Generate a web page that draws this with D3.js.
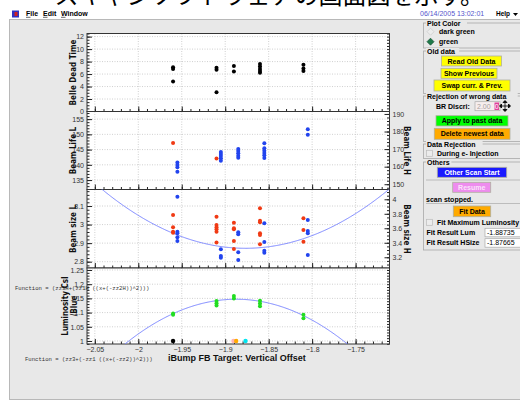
<!DOCTYPE html>
<html>
<head>
<meta charset="utf-8">
<script src="https://cdn.jsdelivr.net/npm/d3@7"></script>
<style>
body { margin: 0; background: #fff; }
svg { display: block; font-family: "Liberation Sans", Arial, sans-serif; }
</style>
</head>
<body>
<svg id="chart" width="520" height="403"></svg>
<script>
// ---- data ----
var xTickVals = [-2.05, -2, -1.95, -1.9, -1.85, -1.8, -1.75];
var scanX  = [-1.96, -1.91, -1.89, -1.86, -1.81];       // L / dead time / lum points
var scanXH = [-1.955, -1.905, -1.885, -1.855, -1.805];  // H points sit a bit to the right

var deadTime = [[7.1, 6.8, 4.8], [7.0, 6.7, 3.1], [7.3, 6.4], [7.6, 7.2, 6.8, 6.5, 6.2], [7.5, 6.9, 6.5]];
var lifeL = [[147.2], [142.1], [], [], []];
var lifeH = [[162.3, 161, 159.6, 157.1], [168.3, 167.2, 166.1, 164.8, 163.4],
             [170.1, 168.9, 167.6, 166.2, 165.1], [173.3, 170.5, 169.1, 167.8, 166.5, 164.9], [181.3, 178.2]];
var sizeL = [[3.052, 2.985, 2.962, 2.956], [3.042, 2.998, 2.985, 2.975, 2.962, 2.904],
             [3.010, 2.980, 2.975, 2.912, 2.868], [3.088, 3.021, 3.012, 2.953, 2.944, 2.894], [3.034, 2.971, 2.908]];
var sizeH = [[4.036, 3.553, 3.531, 3.476, 3.425], [3.310, 3.218, 3.194],
             [3.545, 3.517, 3.269, 3.163], [3.669, 3.411, 3.291, 3.263], [3.714, 3.563, 3.531, 3.232]];
var lumCsI = [[1.092, 1.097], [1.141, 1.133, 1.125], [1.158, 1.150], [1.142, 1.132, 1.122], [1.092, 1.080]];
var lumMarkX = [-1.96, -1.8905, -1.88735, -1.87665];
var lumMarkY = [1.0, 1.0, 1.0, 1.0];

var fitLum   = [9.63, -1.88735, 1.147];   // zz1, zz2, zz3
var fitSizeH = [29.85, -1.87665, 3.324];  // zz1H, zz2H, zz3H

var deadTicks  = [0, 2, 4, 6, 8, 10, 12];
var lifeLTicks = [135, 140, 145, 150, 155];
var lifeHTicks = [150, 160, 170, 180, 190];
var sizeLTicks = [2.8, 2.9, 3, 3.1];
var sizeHTicks = [3.2, 3.4, 3.6, 3.8, 4];
var lumTicks   = [1, 1.05, 1.1, 1.15, 1.2, 1.25];

// ---- layout ----
var svg = d3.select("#chart");
var plotL = 87, plotR = 389.5;
var x = d3.scaleLinear().domain([-2.059, -1.711]).range([plotL, plotR]);
var lineCol = "#7b86ff";

function flat(xs, groups) {
  var out = [];
  groups.forEach(function(g, i) { g.forEach(function(v) { out.push({x: xs[i], v: v}); }); });
  return out;
}
function minors(dom, step) {
  return d3.range(Math.ceil(dom[0] / step - 1e-6), Math.floor(dom[1] / step + 1e-6) + 1).map(function(i) { return +(i * step).toFixed(4); });
}

// window background
svg.append("rect").attr("x", 9.5).attr("y", 19.5).attr("width", 520).attr("height", 380)
  .attr("fill", "#e8e8e8").attr("stroke", "#b8b8b8");

// top line of document text (cut off)
svg.append("text").attr("x", 484).attr("y", 4).attr("font-size", 24).attr("text-anchor", "end")
  .attr("font-family", "'Noto Sans CJK JP', sans-serif").attr("fill", "#000")
  .text("スキャンソフトウェアの画面図を示す。");

// menu bar
svg.append("rect").attr("x", 12).attr("y", 10.5).attr("width", 7).attr("height", 7).attr("fill", "#3030c0");
svg.append("rect").attr("x", 14.5).attr("y", 12).attr("width", 3).attr("height", 4).attr("fill", "#d02020");
[["File", 26], ["Edit", 43], ["Window", 61]].forEach(function(m) {
  svg.append("text").attr("x", m[1]).attr("y", 16).attr("font-size", 7).attr("font-weight", "bold").text(m[0]);
  svg.append("line").attr("x1", m[1]).attr("x2", m[1] + 4.5).attr("y1", 17.3).attr("y2", 17.3).attr("stroke", "#000").attr("stroke-width", 0.6);
});
svg.append("text").attr("x", 420).attr("y", 16).attr("font-size", 7).attr("fill", "#5555cc").text("06/14/2005 13:02:01");
svg.append("text").attr("x", 496).attr("y", 16).attr("font-size", 6.5).attr("font-weight", "bold").text("Help");
svg.append("path").attr("d", "M513,13 L518,13 L515.5,16 Z").attr("fill", "#000");

// ---- panels ----
var panels = [
  {top: 33.5, bot: 111.5, dom: [0, 12.5], ticks: deadTicks, minor: 0.5},
  {top: 111.5, bot: 189.5, dom: [131.9, 157.5], ticks: lifeLTicks, minor: 1,
   dom2: [147, 191.4], ticks2: lifeHTicks, minor2: 2},
  {top: 189.5, bot: 268, dom: [2.766, 3.189], ticks: sizeLTicks, minor: 0.02,
   dom2: [3.052, 4.135], ticks2: sizeHTicks, minor2: 0.05},
  {top: 268, bot: 344, dom: [0.9894, 1.257], ticks: lumTicks, minor: 0.01}
];

panels.forEach(function(p, i) {
  p.y = d3.scaleLinear().domain(p.dom).range([p.bot, p.top]);
  if (p.dom2) p.y2 = d3.scaleLinear().domain(p.dom2).range([p.bot, p.top]);
  var g = svg.append("g");
  g.append("rect").attr("x", plotL).attr("y", p.top).attr("width", plotR - plotL).attr("height", p.bot - p.top).attr("fill", "#fff");
  g.selectAll(".vg").data(xTickVals).enter().append("line")
    .attr("x1", function(d) { return x(d); }).attr("x2", function(d) { return x(d); })
    .attr("y1", p.top).attr("y2", p.bot)
    .attr("stroke", "#c4c4c4").attr("stroke-width", 0.8).attr("stroke-dasharray", "1,1.5");
  g.selectAll(".hg").data(p.ticks).enter().append("line")
    .attr("x1", plotL).attr("x2", plotR)
    .attr("y1", function(d) { return p.y(d); }).attr("y2", function(d) { return p.y(d); })
    .attr("stroke", "#c4c4c4").attr("stroke-width", 0.8).attr("stroke-dasharray", "1,1.5");
  svg.append("clipPath").attr("id", "clip" + i).append("rect")
    .attr("x", plotL).attr("y", p.top).attr("width", plotR - plotL).attr("height", p.bot - p.top);
  p.g = g;
});

function styleAxis(sel, size) {
  sel.attr("font-size", size || 7).attr("font-family", "'Liberation Sans', Arial, sans-serif");
  sel.select(".domain").remove();
  sel.selectAll("line").attr("stroke", "#222");
  sel.selectAll("text").attr("fill", "#333");
}

panels.forEach(function(p, i) {
  var g = p.g;
  // left axis
  g.append("g").attr("transform", "translate(" + plotL + ",0)")
    .call(d3.axisLeft(p.y).tickValues(minors(p.dom, p.minor)).tickSize(-2.5).tickFormat(""))
    .call(styleAxis);
  g.append("g").attr("transform", "translate(" + plotL + ",0)")
    .call(d3.axisLeft(p.y).tickValues(p.ticks).tickSize(-5).tickPadding(3).tickFormat(d3.format("")))
    .call(styleAxis);
  // right axis
  if (p.y2) {
    g.append("g").attr("transform", "translate(" + plotR + ",0)")
      .call(d3.axisRight(p.y2).tickValues(minors(p.dom2, p.minor2)).tickSize(-2.5).tickFormat(""))
      .call(styleAxis);
    g.append("g").attr("transform", "translate(" + plotR + ",0)")
      .call(d3.axisRight(p.y2).tickValues(p.ticks2).tickSize(-5).tickPadding(3).tickFormat(d3.format("")))
      .call(styleAxis);
  } else {
    g.append("g").attr("transform", "translate(" + plotR + ",0)")
      .call(d3.axisRight(p.y).tickValues(minors(p.dom, p.minor)).tickSize(-2.5).tickFormat(""))
      .call(styleAxis);
  }
  // bottom axis of the panel
  g.append("g").attr("transform", "translate(0," + p.bot + ")")
    .call(d3.axisBottom(x).tickValues(minors(x.domain(), 0.01)).tickSize(-2.5).tickFormat(""))
    .call(styleAxis);
  g.append("g").attr("class", "xmaj").attr("transform", "translate(0," + p.bot + ")")
    .call(d3.axisBottom(x).tickValues(xTickVals).tickSize(-5).tickPadding(3.5)
      .tickFormat(i === 3 ? d3.format("") : ""))
    .call(styleAxis);
  g.append("rect").attr("x", plotL).attr("y", p.top).attr("width", plotR - plotL).attr("height", p.bot - p.top)
    .attr("fill", "none").attr("stroke", "#333").attr("stroke-width", 1);
});

// ---- fit curves ----
var xs = d3.range(x.domain()[0], x.domain()[1], 0.001);
function parab(f, s) { return function(xv) { return f[2] - s * f[0] * Math.pow(xv - f[1], 2); }; }
var fSize = parab(fitSizeH, -1), fLum = parab(fitLum, 1);
panels[2].g.append("path").attr("clip-path", "url(#clip2)")
  .attr("d", d3.line().x(function(d) { return x(d); }).y(function(d) { return panels[2].y2(fSize(d)); })(xs))
  .attr("fill", "none").attr("stroke", lineCol).attr("stroke-width", 1);
panels[3].g.append("path").attr("clip-path", "url(#clip3)")
  .attr("d", d3.line().x(function(d) { return x(d); }).y(function(d) { return panels[3].y(fLum(d)); })(xs))
  .attr("fill", "none").attr("stroke", lineCol).attr("stroke-width", 1);

// ---- points ----
function dots(p, yScale, data, col, ci) {
  p.g.append("g").attr("clip-path", "url(#clip" + ci + ")").selectAll("circle").data(data).enter().append("circle")
    .attr("cx", function(d) { return x(d.x); }).attr("cy", function(d) { return yScale(d.v); })
    .attr("r", 2).attr("fill", col);
}
var red = "#f03a14", blue = "#2244ee", green = "#22dd22";
dots(panels[0], panels[0].y, flat(scanX, deadTime), "#000", 0);
dots(panels[1], panels[1].y, flat(scanX, lifeL), red, 1);
dots(panels[1], panels[1].y2, flat(scanXH, lifeH), blue, 1);
dots(panels[2], panels[2].y, flat(scanX, sizeL), red, 2);
dots(panels[2], panels[2].y2, flat(scanXH, sizeH), blue, 2);
dots(panels[3], panels[3].y, flat(scanX, lumCsI), green, 3);
var markCols = ["#000", "#ffb3b3", "#ffaa00", "#00e5f0"];
panels[3].g.selectAll(".mk").data(lumMarkX).enter().append("circle")
  .attr("cx", function(d) { return x(d); }).attr("cy", function(d, i) { return panels[3].y(lumMarkY[i]); })
  .attr("r", 2.2).attr("fill", function(d, i) { return markCols[i]; });

// ---- axis titles ----
function vtitle(tx, ty, rot, txt) {
  svg.append("text").attr("transform", "translate(" + tx + "," + ty + ") rotate(" + rot + ")")
    .attr("text-anchor", "middle").attr("font-size", 8).attr("font-weight", "bold")
    .attr("font-family", "'Liberation Sans Narrow', 'DejaVu Sans Condensed', Arial, sans-serif")
    .attr("fill", "#111").text(txt);
}
vtitle(76, 72.5, -90, "Belle Dead Time");
vtitle(76, 150.5, -90, "Beam Life L");
vtitle(76, 229, -90, "Beam size L");
vtitle(68, 306, -90, "Luminosity CsI");
vtitle(77, 306, -90, "/Blue");
vtitle(404, 150.5, 90, "Beam Life H");
vtitle(404, 229, 90, "Beam size H");

svg.append("text").attr("x", (x(-1.9) + x(-1.85)) / 2 - 10).attr("y", 361).attr("text-anchor", "middle")
  .attr("font-size", 9).attr("font-weight", "bold").attr("fill", "#111")
  .text("iBump FB Target: Vertical Offset");

svg.append("text").attr("x", 15).attr("y", 290).attr("font-size", 5.6)
  .attr("font-family", "'Liberation Mono', 'DejaVu Sans Mono', monospace").attr("fill", "#333")
  .text("Function = (zz3H+(zz1H ((x+(-zz2H))^2)))");
svg.append("text").attr("x", 25).attr("y", 361).attr("font-size", 5.6)
  .attr("font-family", "'Liberation Mono', 'DejaVu Sans Mono', monospace").attr("fill", "#333")
  .text("Function = (zz3+(-zz1 ((x+(-zz2))^2)))");

// ---- control panel ----
var cp = svg.append("g").attr("font-size", 7).attr("font-weight", "bold");
function group(y0, y1, title) {
  cp.append("rect").attr("x", 423.5).attr("y", y0).attr("width", 110).attr("height", y1 - y0)
    .attr("fill", "none").attr("stroke", "#a8a8a8").attr("stroke-width", 0.8);
  cp.append("rect").attr("x", 426).attr("y", y0 - 3).attr("width", title.length * 3.9 + 2).attr("height", 6).attr("fill", "#e8e8e8");
  cp.append("text").attr("x", 427).attr("y", y0 + 2.5).text(title);
}
function button(x0, x1, y0, y1, fill, txt, tcol) {
  cp.append("rect").attr("x", x0).attr("y", y0).attr("width", x1 - x0).attr("height", y1 - y0)
    .attr("fill", fill).attr("stroke", "#b0b0a0").attr("stroke-width", 0.8);
  cp.append("text").attr("x", (x0 + x1) / 2).attr("y", (y0 + y1) / 2 + 2.5).attr("text-anchor", "middle")
    .attr("fill", tcol || "#000").text(txt);
}
function checkbox(cx, cy, txt) {
  cp.append("rect").attr("x", cx - 3).attr("y", cy - 3).attr("width", 6).attr("height", 6)
    .attr("fill", "#ececec").attr("stroke", "#bbb").attr("stroke-width", 0.7);
  cp.append("text").attr("x", cx + 7.5).attr("y", cy + 2.5).text(txt);
}
function diamond(cx, cy, fill, stroke) {
  cp.append("path").attr("d", "M" + cx + "," + (cy - 3.5) + "L" + (cx + 3.5) + "," + cy + "L" + cx + "," + (cy + 3.5) + "L" + (cx - 3.5) + "," + cy + "Z")
    .attr("fill", fill).attr("stroke", stroke).attr("stroke-width", 0.7);
}

group(23, 48, "Plot Color");
diamond(430.5, 31.7, "#ececec", "#c8c8c8");
cp.append("text").attr("x", 439).attr("y", 34.2).text("dark green");
diamond(430.5, 41.7, "#1e7a4a", "#145030");
cp.append("text").attr("x", 439).attr("y", 44.2).text("green");

group(51, 93.5, "Old data");
button(441.5, 501.5, 56, 66, "#ffff00", "Read Old Data");
button(441, 497, 68.3, 78.3, "#ffff00", "Show Previous");
button(434, 510, 80, 91, "#ffff00", "Swap curr. & Prev.");

group(96, 141.5, "Rejection of wrong data");
cp.append("text").attr("x", 436).attr("y", 108.5).text("BR Discri:");
cp.append("rect").attr("x", 475).attr("y", 101.7).attr("width", 25).attr("height", 9)
  .attr("fill", "#f6eeee").attr("stroke", "#aaa").attr("stroke-width", 0.7);
cp.append("text").attr("x", 477).attr("y", 108.7).attr("font-weight", "normal").attr("fill", "#a8a0a0").text("2.00");
cp.append("rect").attr("x", 494.5).attr("y", 102.5).attr("width", 4.5).attr("height", 7.5).attr("fill", "#e0409a");
cp.append("text").attr("x", 494.7).attr("y", 108.7).attr("font-weight", "normal").attr("fill", "#fff").text("0");
cp.append("path").attr("d", "M505,101.5V110.5M500.5,106H509.5M505,100.5l-2,2h4zM505,111.5l-2,-2h4zM499.5,106l2,-2v4zM510.5,106l-2,-2v4z")
  .attr("stroke", "#000").attr("stroke-width", 0.8).attr("fill", "#000");
button(436, 508, 115.7, 126, "#00ff00", "Apply to past data");
button(434.3, 510, 128.3, 139.3, "#ffaa00", "Delete newest data");

group(144, 158.5, "Data Rejection");
checkbox(429.5, 153.3, "During e- Injection");

group(162, 250, "Others");
button(437.3, 506.7, 167.3, 177.3, "#1a1aff", "Other Scan Start", "#ffffff");
cp.append("line").attr("x1", 426).attr("x2", 520).attr("y1", 180).attr("y2", 180).attr("stroke", "#b0b0b0").attr("stroke-width", 0.8);
button(452.7, 490.7, 182.3, 192.3, "#ee8cee", "Resume", "#fbe3fb");
cp.append("text").attr("x", 426).attr("y", 201.5).text("scan stopped.");
cp.append("line").attr("x1", 426).attr("x2", 520).attr("y1", 203.5).attr("y2", 203.5).attr("stroke", "#b0b0b0").attr("stroke-width", 0.8);
button(453.3, 490.7, 206, 216.7, "#ffaa00", "Fit Data");
checkbox(429.5, 222.3, "Fit Maximum Luminosity");
cp.append("text").attr("x", 426.5).attr("y", 234.8).text("Fit Result Lum");
cp.append("rect").attr("x", 485).attr("y", 228.3).attr("width", 40).attr("height", 8.5).attr("fill", "#fff").attr("stroke", "#aaa").attr("stroke-width", 0.7);
cp.append("text").attr("x", 487).attr("y", 235).attr("font-weight", "normal").text("-1.88735");
cp.append("text").attr("x", 426.5).attr("y", 245.2).text("Fit Result HSize");
cp.append("rect").attr("x", 485).attr("y", 238.7).attr("width", 40).attr("height", 8.5).attr("fill", "#fff").attr("stroke", "#aaa").attr("stroke-width", 0.7);
cp.append("text").attr("x", 487).attr("y", 245.4).attr("font-weight", "normal").text("-1.87665");
</script>
</body>
</html>
